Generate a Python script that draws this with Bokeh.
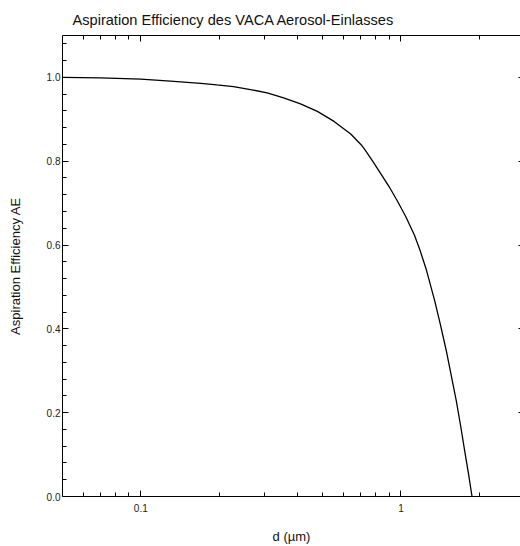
from bokeh.plotting import figure
from bokeh.models import Range1d, FixedTicker, LogAxis, LinearAxis, PrintfTickFormatter
from bokeh.embed import file_html
from bokeh.resources import INLINE

# data
d_um = [0.05, 0.07, 0.1, 0.13, 0.17, 0.196, 0.227, 0.264, 0.306, 0.354, 0.411,
        0.477, 0.553, 0.641, 0.701, 0.722, 0.777, 0.837, 0.901, 0.971, 1.045, 1.126,
        1.177, 1.249, 1.345, 1.419, 1.492, 1.56, 1.631, 1.694, 1.756, 1.82, 1.875]
ae = [1.0, 0.999, 0.996, 0.991, 0.986, 0.982, 0.978, 0.971, 0.963, 0.951, 0.937,
      0.919, 0.895, 0.865, 0.840, 0.830, 0.801, 0.770, 0.739, 0.704, 0.667, 0.624,
      0.592, 0.543, 0.469, 0.409, 0.349, 0.289, 0.229, 0.170, 0.110, 0.052, 0.0]

x_major = [0.1, 1]
x_minor = [0.06, 0.07, 0.08, 0.09, 0.2, 0.3, 0.4, 0.5, 0.6, 0.7, 0.8, 0.9, 2]
x_labels = {0.1: "0.1", 1: "1"}
y_major = [0.0, 0.2, 0.4, 0.6, 0.8, 1.0]
y_minor = [0.04, 0.08, 0.12, 0.16, 0.24, 0.28, 0.32, 0.36, 0.44, 0.48, 0.52, 0.56,
           0.64, 0.68, 0.72, 0.76, 0.84, 0.88, 0.92, 0.96, 1.04, 1.08]

FONT = "Liberation Sans"

p = figure(x_axis_type="log", x_range=Range1d(0.05, 2.88), y_range=Range1d(0, 1.1),
           width=520, height=546, output_backend="svg", toolbar_location=None,
           min_border_left=62, min_border_top=35, min_border_right=0, min_border_bottom=50,
           title="Aspiration Efficiency des VACA Aerosol-Einlasses")
p.outline_line_color = None
p.grid.visible = False
p.background_fill_color = "white"

p.title.text_font = FONT
p.title.text_font_size = "14.6px"
p.title.text_font_style = "normal"
p.title.text_color = "#111111"
p.title.offset = 10
p.title.standoff = 16

def style(ax, labels=True):
    ax.axis_line_color = "black"
    ax.axis_line_width = 1
    ax.major_tick_line_color = "black"
    ax.minor_tick_line_color = "black"
    ax.major_tick_in = 6
    ax.major_tick_out = 0
    ax.minor_tick_in = 4
    ax.minor_tick_out = 0
    ax.major_label_text_font = FONT
    ax.major_label_text_font_size = "10px" if labels else "1px"
    ax.major_label_text_color = "#222222" if labels else None
    ax.axis_label_text_font = FONT
    ax.axis_label_text_font_size = "13px"
    ax.axis_label_text_font_style = "normal"
    ax.axis_label_text_color = "#111111"

xax = p.xaxis[0]
xax.ticker = FixedTicker(ticks=x_major, minor_ticks=x_minor)
xax.major_label_overrides = x_labels
xax.axis_label = "d (µm)"
style(xax)
xax.major_label_standoff = 7
xax.axis_label_standoff = 14

yax = p.yaxis[0]
yax.ticker = FixedTicker(ticks=y_major, minor_ticks=y_minor)
yax.formatter = PrintfTickFormatter(format="%.1f")
yax.axis_label = "Aspiration Efficiency AE"
style(yax)
yax.major_label_standoff = 2
yax.axis_label_standoff = 21

top = LogAxis(ticker=FixedTicker(ticks=x_major, minor_ticks=x_minor))
style(top, labels=False)
top.major_label_standoff = 0
p.add_layout(top, "above")

right = LinearAxis(ticker=FixedTicker(ticks=y_major, minor_ticks=[]))
style(right, labels=False)
right.axis_line_color = None
right.major_tick_in = 2
right.major_label_standoff = 0
p.add_layout(right, "right")

p.line(d_um, ae, line_color="black", line_width=1.3)

open("out.html", "w").write(file_html(p, INLINE))
